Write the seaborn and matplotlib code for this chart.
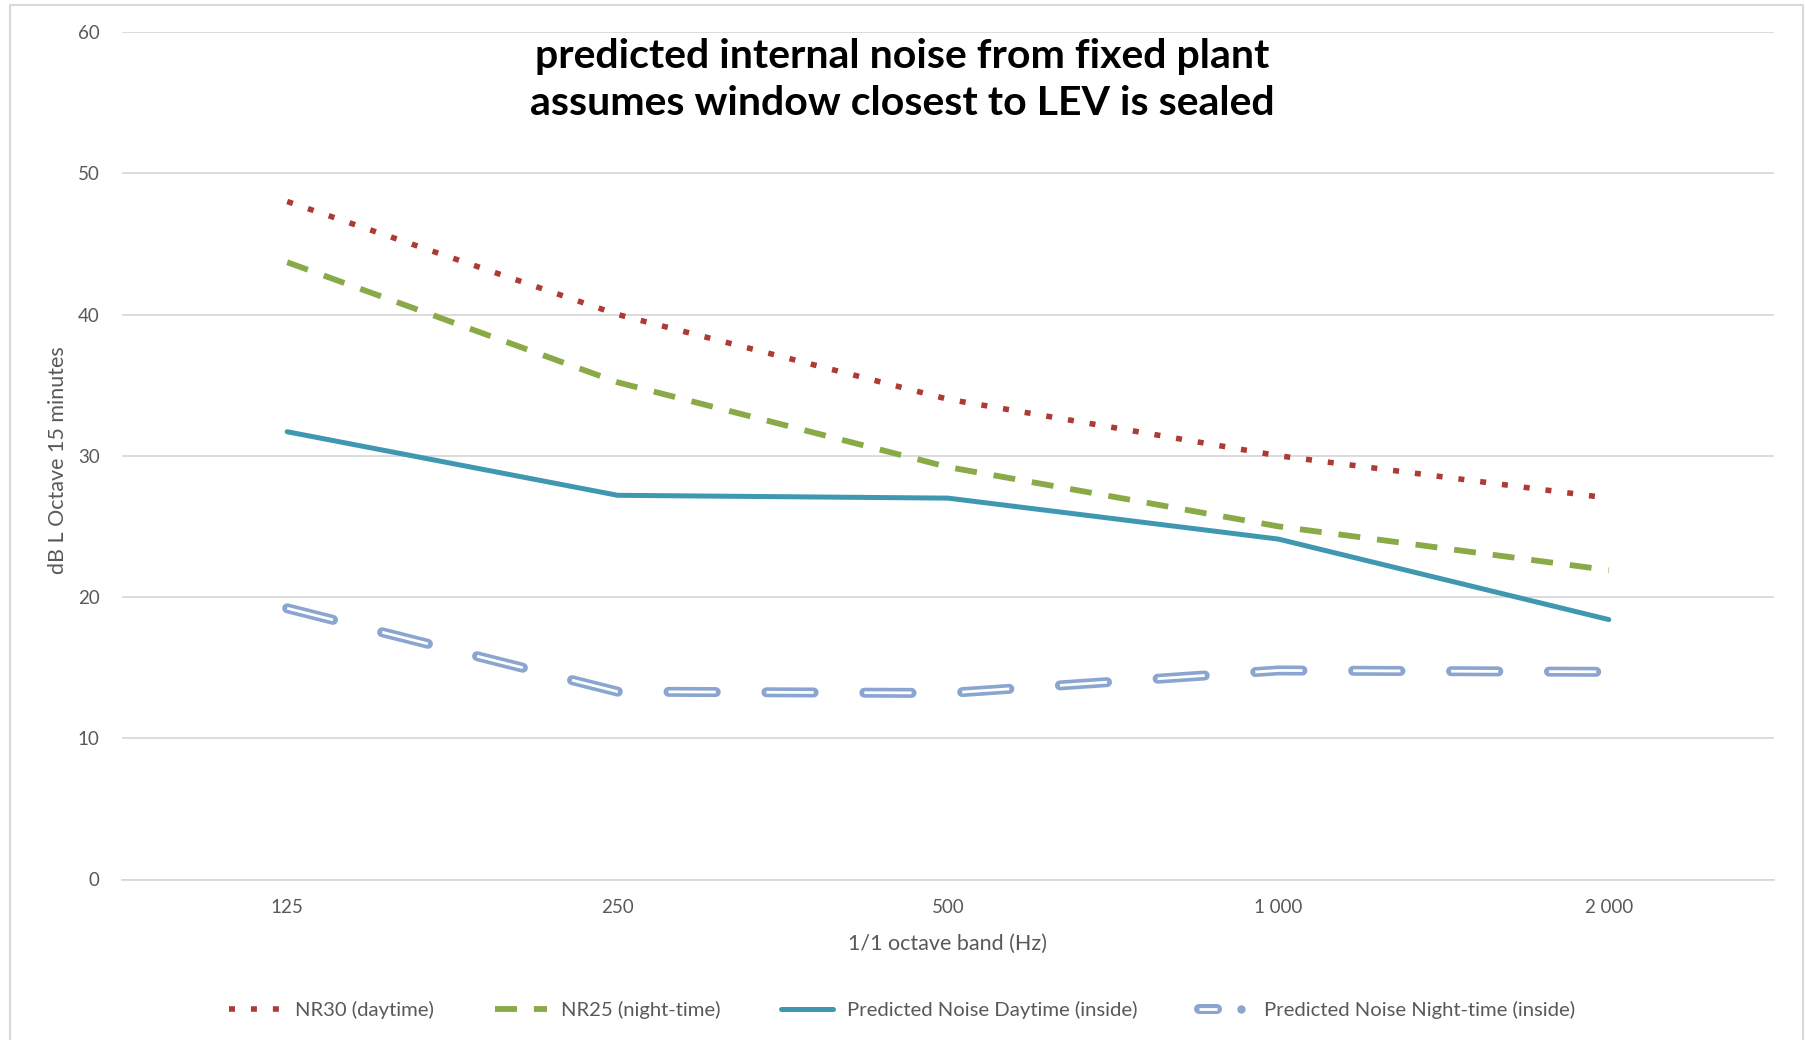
import numpy as np
import pandas as pd
import matplotlib
matplotlib.use("Agg")
import matplotlib.pyplot as plt
from matplotlib.lines import Line2D
from matplotlib.legend_handler import HandlerTuple
import seaborn as sns

# Octave band centre frequencies and level curves (dB)
bands = ["125", "250", "500", "1 000", "2 000"]
nr30_day = [48.0, 40.0, 34.0, 30.0, 27.0]
nr25_night = [43.7, 35.2, 29.2, 25.0, 21.9]
pred_day = [31.7, 27.2, 27.0, 24.1, 18.4]
pred_night = [19.2, 13.3, 13.2, 14.8, 14.7]

series_names = ["NR30 (daytime)", "NR25 (night-time)",
                "Predicted Noise Daytime (inside)", "Predicted Noise Night-time (inside)"]

sns.set_theme(style="white")
plt.rcParams["font.family"] = ["Lato", "DejaVu Sans"]
plt.rcParams["lines.scale_dashes"] = False

RED = "#AE3A35"
GREEN = "#8AAA48"
TEAL = "#3F98B0"
NIGHT = "#8AA5CF"
GRID = "#D9D9D9"
TXT = "#595959"

NIGHT_DASH = (34, 36.5)
NIGHT_OUT_LW = 7.2
NIGHT_IN_LW = 2.0

fig = plt.figure(figsize=(18.05, 10.4), dpi=100)
W, H = 1805, 1040
ax = fig.add_axes([122 / W, (H - 879.5) / H, (1774 - 122) / W, (879.5 - 32) / H])

xpos = np.arange(len(bands))
df = pd.DataFrame({"x": xpos, "nr30": nr30_day, "nr25": nr25_night,
                   "day": pred_day, "night": pred_night})

sns.lineplot(data=df, x="x", y="nr30", ax=ax, color=RED, lw=4.0, zorder=3)
ax.lines[-1].set_dashes((4.3, 11.5))
sns.lineplot(data=df, x="x", y="nr25", ax=ax, color=GREEN, lw=4.2, zorder=3)
ax.lines[-1].set_dashes((15.8, 12.2))
sns.lineplot(data=df, x="x", y="day", ax=ax, color=TEAL, lw=3.6, zorder=3)

# Night-time series: hollow dashes drawn as a wide blue stroke with a white core
sns.lineplot(data=df, x="x", y="night", ax=ax, color=NIGHT, lw=NIGHT_OUT_LW, zorder=3)
outer = ax.lines[-1]
outer.set_dashes(NIGHT_DASH)
outer.set_dash_capstyle("round")
sns.lineplot(data=df, x="x", y="night", ax=ax, color="white", lw=NIGHT_IN_LW, zorder=4)
inner = ax.lines[-1]
inner.set_dashes(NIGHT_DASH)
inner.set_dash_capstyle("butt")

ax.set_xlim(-0.5, len(bands) - 0.5)
ax.set_ylim(0, 60)
ax.set_yticks(np.arange(0, 61, 10))
ax.set_xticks(xpos)
ax.set_xticklabels(bands)
ax.yaxis.grid(True, color=GRID, lw=1.3)
ax.xaxis.grid(False)
for s in ["left", "right", "top"]:
    ax.spines[s].set_visible(False)
ax.spines["bottom"].set_color(GRID)
ax.spines["bottom"].set_linewidth(1.3)
ax.tick_params(axis="both", length=0, labelsize=13.5, labelcolor=TXT)
ax.tick_params(axis="y", pad=16)
ax.tick_params(axis="x", pad=14)

ax.set_xlabel("1/1 octave band (Hz)", fontsize=15.5, color=TXT)
ax.xaxis.set_label_coords(0.5, -0.064)
ax.set_ylabel("dB L Octave 15 minutes", fontsize=15.5, color=TXT)
ax.yaxis.set_label_coords(-0.0325, 0.495)

fig.text(0.5, 1 - 80 / H,
         "predicted internal noise from fixed plant\nassumes window closest to LEV is sealed",
         ha="center", va="center", fontsize=29.5, fontweight="bold", color="black",
         linespacing=1.32)

# Legend
h_red = Line2D([], [], color=RED, lw=4.0, dashes=(4.3, 11.5))
h_green = Line2D([], [], color=GREEN, lw=4.2, dashes=(15.8, 12.2))
h_teal = Line2D([], [], color=TEAL, lw=3.6)
h_night_out = Line2D([], [], color=NIGHT, lw=NIGHT_OUT_LW, solid_capstyle="round")
h_night_in = Line2D([], [], color="white", lw=NIGHT_IN_LW, solid_capstyle="butt")
h_night_mark = Line2D([], [], ls="none", marker="o", markersize=5,
                      markerfacecolor=NIGHT, markeredgecolor=NIGHT)
night_line = (h_night_out, h_night_in)
night_handle = (night_line, h_night_mark)
fig.legend([h_red, h_green, h_teal, night_handle],
           series_names, loc="center", bbox_to_anchor=(0.5, 30 / H), ncol=4,
           frameon=False, fontsize=14.6, labelcolor=TXT, handlelength=2.55,
           columnspacing=3.0, handletextpad=0.7,
           handler_map={night_handle: HandlerTuple(ndivide=None, pad=0.7),
                        night_line: HandlerTuple(ndivide=1, pad=0.0)})

# Chart border
fig.add_artist(Line2D([10 / W, 10 / W, 1803 / W, 1803 / W],
                      [0, 1 - 5 / H, 1 - 5 / H, 0], transform=fig.transFigure,
                      color=GRID, lw=1.5))

fig.savefig("out.png", dpi=100)
